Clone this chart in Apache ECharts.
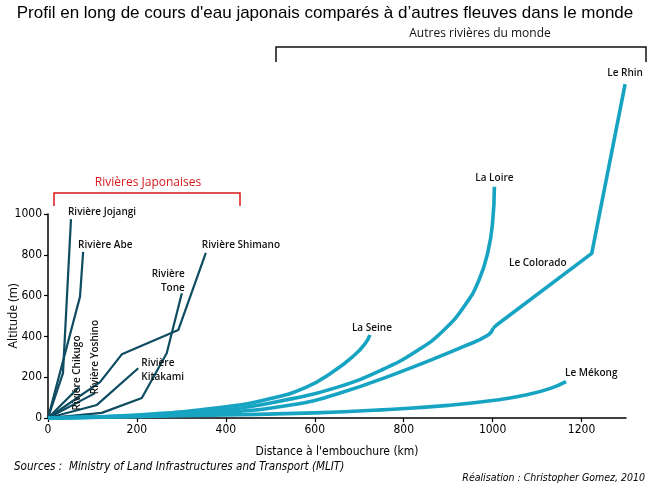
<!DOCTYPE html>
<html><head><meta charset="utf-8">
<script src="https://cdn.jsdelivr.net/npm/echarts@6/dist/echarts.min.js"></script>
<style>html,body{margin:0;padding:0;background:#fff}#c{width:650px;height:486px}</style>
</head><body><div id="c"></div>
<script>
// ---- data (km from mouth, altitude m) ----
const xTicks = [0, 200, 400, 600, 800, 1000, 1200];
const yTicks = [0, 200, 400, 600, 800, 1000];

const jojangi  = [[0,0],[33.7,220],[51.7,975]];
const abe      = [[0,0],[72,595],[79,814]];
const chikugo  = [[0,0],[70,152]];
const yoshino  = [[0,0],[106,122]];
const shimano  = [[0,0],[117,176],[166,312],[293,431],[355,810]];
const kitakami = [[0,0],[110,64],[203,244]];
const tone     = [[0,0],[121,25],[211,98],[267,317],[301,611]];

const seine    = [[0,0],[200,15],[400,55],[500,95],[580,150],[640,225],[690,310],[715,370],[724,407]];
const loire    = [[0,0],[200,12],[400,40],[550,95],[650,150],[750,235],[830,330],[890,430],[940,560],[970,680],[990,820],[1000,960],[1004,1134]];
const colorado = [[0,0],[200,8],[400,28],[550,65],[650,118],[784,219],[934,350],[990,407],[1001,440]];
const rhin     = [[1001,440],[1009,456],[1223,807],[1298,1637]];
const mekong   = [[0,0],[200,7],[400,15],[600,25],[750,40],[900,62],[1009,88],[1080,115],[1130,145],[1165,178]];

const jpColor = '#0e4c61';
const wColor = '#17a4c2';
const narrow = "'Liberation Sans Narrow','DejaVu Sans Condensed',sans-serif";
const lab = "'Open Sans',sans-serif";

function jp(name, data){ return {name, type:'line', data, smooth:false, symbol:'none', clip:false, lineStyle:{color:jpColor, width:2.2}, z:2}; }
function w(name, data, smooth){ return {name, type:'line', data, smooth:smooth, symbol:'none', clip:false, lineStyle:{color:wColor, width:3.6}, z:3}; }

const chart = echarts.init(document.getElementById('c'), null, {renderer:'canvas'});
chart.setOption({
  animation:false,
  backgroundColor:'#fff',
  title:{text:"Profil en long de cours d'eau japonais comparés à d\u2019autres fleuves dans le monde", left:'center', top:0,
    textStyle:{fontFamily:"'Liberation Sans',Arial,sans-serif", fontWeight:'normal', fontSize:17, color:'#000'}},
  grid:{left:48, right:24, top:214, bottom:68, containLabel:false, outerBoundsMode:'none'},
  xAxis:{type:'value', min:0, max:1300, interval:200,
    name:"Distance à l'embouchure (km)", nameLocation:'middle', nameGap:28,
    nameTextStyle:{fontFamily:narrow, fontSize:12, color:'#000'},
    axisLine:{lineStyle:{color:'#000', width:1.5}},
    axisTick:{length:4, lineStyle:{color:'#000', width:1.2}, customValues:xTicks},
    axisLabel:{customValues:xTicks, formatter:v=>String(v), fontFamily:narrow, fontSize:12, color:'#000', margin:6},
    splitLine:{show:false}},
  yAxis:{type:'value', min:0, max:1000, interval:200,
    axisLine:{show:true, lineStyle:{color:'#000', width:1.5}},
    axisTick:{show:true, length:4, lineStyle:{color:'#000', width:1.2}, customValues:yTicks},
    axisLabel:{customValues:yTicks, formatter:v=>String(v), fontFamily:narrow, fontSize:12, color:'#000', margin:6},
    splitLine:{show:false}},
  series:[
    jp('Rivière Jojangi', jojangi), jp('Rivière Abe', abe), jp('Rivière Chikugo', chikugo),
    jp('Rivière Yoshino', yoshino), jp('Rivière Shimano', shimano), jp('Rivière Kitakami', kitakami),
    jp('Rivière Tone', tone),
    w('La Seine', seine, 0.5), w('La Loire', loire, 0.5), w('Le Colorado', colorado, 0.5),
    w('Le Rhin', rhin, false), w('Le Mékong', mekong, 0.5)
  ]
});

// annotation labels anchored on data points
const last = a => a[a.length-1];
const labels = [
  {t:'Rivière Jojangi', p:last(jojangi), dx:-3, dy:-7, align:'left'},
  {t:'Rivière Abe', p:last(abe), dx:-5, dy:-7, align:'left'},
  {t:'Rivière Shimano', p:last(shimano), dx:-4, dy:-8, align:'left'},
  {t:'Rivière\nTone', p:last(tone), dx:3, dy:-12, align:'right'},
  {t:'Rivière\nKitakami', p:last(kitakami), dx:3, dy:2, align:'left'},
  {t:'Rivière Chikugo', p:last(chikugo), dx:-2, dy:-14, align:'center', rot:true},
  {t:'Rivière Yoshino', p:last(yoshino), dx:0, dy:-36, align:'center', rot:true},
  {t:'La Seine', p:last(seine), dx:2, dy:-7, align:'center'},
  {t:'La Loire', p:last(loire), dx:0, dy:-9, align:'center'},
  {t:'Le Mékong', p:last(mekong), dx:-1, dy:-9, align:'left'},
  {t:'Le Rhin', p:last(rhin), dx:0, dy:-11, align:'center'},
  {t:'Le Colorado', p:rhin[2], dx:-54, dy:10, align:'center'}
];
const g = labels.map(l => {
  const px = chart.convertToPixel({xAxisIndex:0, yAxisIndex:0}, l.p);
  return {type:'text', x:px[0]+l.dx, y:px[1]+l.dy, rotation:l.rot?Math.PI/2:0, z:10,
    style:{text:l.t, fontFamily:lab, fontSize:10, fontWeight:600, fill:'#111', align:l.align, verticalAlign:'middle', lineHeight:14}};
});
// y-axis title
const yMid = chart.convertToPixel({yAxisIndex:0}, 500);
g.push({type:'text', x:14, y:yMid, rotation:Math.PI/2, style:{text:'Altitude (m)', fontFamily:lab, fontSize:12, fill:'#000', align:'center', verticalAlign:'middle'}});
// brackets
g.push({type:'polyline', shape:{points:[[54,206],[54,193],[240,193],[240,206]]}, style:{stroke:'#d7191c', lineWidth:1.5, fill:null}});
g.push({type:'text', x:148, y:183, style:{text:'Rivières Japonaises', fontFamily:lab, fontSize:12, fill:'#d7191c', align:'center', verticalAlign:'middle'}});
g.push({type:'polyline', shape:{points:[[276,62],[276,47],[646,47],[646,62]]}, style:{stroke:'#111', lineWidth:1.5, fill:null}});
g.push({type:'text', x:480, y:34, style:{text:'Autres rivières du monde', fontFamily:lab, fontSize:12, fill:'#111', align:'center', verticalAlign:'middle'}});
// credits
g.push({type:'text', x:14, y:467, style:{text:'Sources :  Ministry of Land Infrastructures and Transport (MLIT)', fontFamily:narrow, fontStyle:'italic', fontSize:11.6, fill:'#000', align:'left', verticalAlign:'middle'}});
g.push({type:'text', x:645, y:478, style:{text:'Réalisation : Christopher Gomez, 2010', fontFamily:narrow, fontStyle:'italic', fontSize:10.5, fill:'#000', align:'right', verticalAlign:'middle'}});
chart.setOption({graphic:g});
</script></body></html>
